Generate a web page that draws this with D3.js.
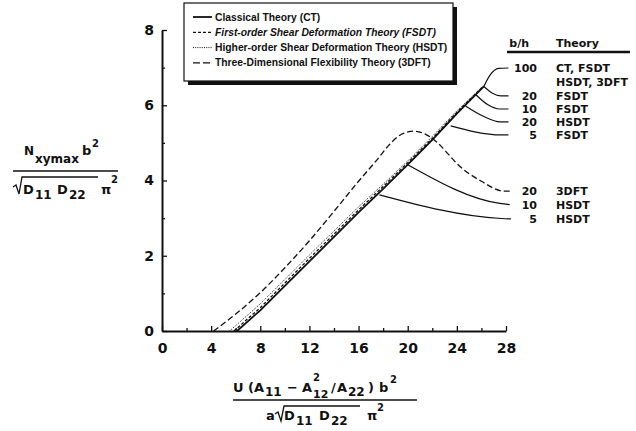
<!DOCTYPE html>
<html>
<head>
<meta charset="utf-8">
<script src="https://cdn.jsdelivr.net/npm/d3@7"></script>
<style>
  body { margin: 0; background: #fff; }
  svg { display: block; }
  text { font-family: "DejaVu Sans", "Liberation Sans", Arial, sans-serif; font-weight: bold; fill: #111; }
  text.legend { font-family: "Liberation Sans", Arial, sans-serif; }
</style>
</head>
<body>
<svg id="chart" width="636" height="431"></svg>
<script>
// axis ticks
const xTicks = [0, 4, 8, 12, 16, 20, 24, 28];
const xMinor = [2, 6, 10, 14, 18, 22, 26];
const yTicks = [0, 2, 4, 6, 8];
const yMinor = [1, 3, 5, 7];

// main bundle (b/h = 100, all theories)
const ctLine   = [[6.1, 0], [8, 0.55], [12, 1.85], [16, 3.15], [18, 3.78], [20, 4.42], [22, 5.08], [24, 5.78], [26.2, 6.5]];
const fsdtLine = [[5.85, 0], [8, 0.62], [12, 1.93], [16, 3.22], [18, 3.84], [20, 4.47], [22, 5.12], [24, 5.81], [26.2, 6.52]];
const hsdtLine = [[5.5, 0], [8, 0.72], [12, 2.02], [16, 3.3], [18, 3.9], [20, 4.52], [22, 5.17], [24, 5.85], [26.1, 6.5]];

// 3DFT, b/h = 20
const dftLine = [[4.2, 0], [6, 0.45], [8, 1.02], [10, 1.68], [12, 2.4], [14, 3.18], [16, 3.98], [17.5, 4.55], [18.5, 4.95],
  [19.5, 5.23], [20.5, 5.31], [21.5, 5.22], [22.5, 4.98], [23.3, 4.7], [24, 4.45], [26, 3.98], [27.8, 3.72], [28.5, 3.72]];

// branches leaving the bundle
const branch100  = [[26.2, 6.5], [26.7, 6.8], [27.4, 6.98], [28.2, 6.99]];
const branchF20  = [[26.2, 6.5], [26.9, 6.32], [27.6, 6.25], [28.2, 6.25]];
const branchF10  = [[25.55, 6.28], [26.5, 6.02], [27.5, 5.9], [28.2, 5.9]];
const branchH20  = [[24.7, 5.98], [26.2, 5.7], [27.5, 5.56], [28.2, 5.56]];
const branchF5   = [[23.5, 5.45], [27.6, 5.21], [28.2, 5.21]];
const branchH10  = [[20, 4.42], [27.5, 3.39], [28.3, 3.36]];
const branchH5   = [[17.7, 3.62], [27.6, 2.99], [28.4, 2.98]];

// labels on the right
const labelBH     = ["100", "20", "10", "20", "5", "20", "10", "5"];
const labelTheory = ["CT, FSDT", "FSDT", "FSDT", "HSDT", "FSDT", "3DFT", "HSDT", "HSDT"];
const labelV      = [6.99, 6.25, 5.9, 5.56, 5.21, 3.72, 3.36, 2.98];

const legendItems = [
  "Classical Theory (CT)",
  "First-order Shear Deformation Theory (FSDT)",
  "Higher-order Shear Deformation Theory (HSDT)",
  "Three-Dimensional Flexibility Theory (3DFT)"
];

const svg = d3.select("#chart");
const x = d3.scaleLinear().domain([0, 28]).range([162, 506]);
const y = d3.scaleLinear().domain([0, 8]).range([331, 30]);

// axes
svg.append("g").attr("transform", "translate(0,331)")
  .call(d3.axisBottom(x).tickValues(xTicks).tickSize(-5).tickSizeOuter(0).tickPadding(12).tickFormat(d3.format("d")));
svg.append("g").attr("transform", "translate(0,331)")
  .call(d3.axisBottom(x).tickValues(xMinor).tickSize(-3).tickSizeOuter(0).tickFormat(""))
  .select(".domain").remove();
svg.append("g").attr("transform", "translate(162,0)")
  .call(d3.axisLeft(y).tickValues(yTicks).tickSize(-5).tickSizeOuter(0).tickPadding(8).tickFormat(d3.format("d")));
svg.append("g").attr("transform", "translate(162,0)")
  .call(d3.axisLeft(y).tickValues(yMinor).tickSize(-3).tickSizeOuter(0).tickFormat(""))
  .select(".domain").remove();

svg.selectAll(".domain").attr("stroke", "#111").attr("stroke-width", 2);
svg.selectAll(".tick line").attr("stroke", "#111").attr("stroke-width", 1.3);
svg.selectAll(".tick text").attr("font-size", "14px").attr("font-family", "DejaVu Sans, Arial, sans-serif")
  .attr("font-weight", "bold").attr("fill", "#111");

// curves
const line = d3.line().x(d => x(d[0])).y(d => y(d[1]));
const smooth = d3.line().x(d => x(d[0])).y(d => y(d[1])).curve(d3.curveMonotoneX);

function drawCurve(data, gen, width, dash) {
  svg.append("path").datum(data)
    .attr("d", gen)
    .attr("fill", "none")
    .attr("stroke", "#111")
    .attr("stroke-width", width)
    .attr("stroke-dasharray", dash);
}

drawCurve(hsdtLine, line, 1, "1,1.3");
drawCurve(fsdtLine, line, 1.3, "3,2");
drawCurve(ctLine, line, 1.8, null);
drawCurve(dftLine, smooth, 1.3, "6,3");
[branch100, branchF20, branchF10, branchH20, branchF5, branchH10, branchH5].forEach(b => drawCurve(b, smooth, 1.2, null));

// right-side labels
const numX = x(28.2) + 28.5, thX = x(28.2) + 47.5;
svg.append("text").attr("x", 529).attr("y", 47).attr("text-anchor", "end").attr("font-size", "11px").text("b/h");
svg.append("text").attr("x", thX).attr("y", 47).attr("font-size", "11px").text("Theory");
svg.append("line").attr("x1", 507).attr("x2", 630).attr("y1", 52).attr("y2", 52).attr("stroke", "#111").attr("stroke-width", 2.5);

labelV.forEach((v, i) => {
  svg.append("text").attr("x", numX).attr("y", y(v) + 4).attr("text-anchor", "end")
    .attr("font-size", "11px").text(labelBH[i]);
  svg.append("text").attr("x", thX).attr("y", y(v) + 4)
    .attr("font-size", "11px").text(labelTheory[i]);
});
svg.append("text").attr("x", thX).attr("y", y(labelV[0]) + 18).attr("font-size", "11px").text("HSDT, 3DFT");

// legend
svg.append("rect").attr("x", 188).attr("y", 7).attr("width", 269).attr("height", 78).attr("fill", "#111");
svg.append("rect").attr("x", 184).attr("y", 3).attr("width", 269).attr("height", 78)
  .attr("fill", "#fff").attr("stroke", "#111").attr("stroke-width", 1.2);
const legendStyles = [[1.8, null], [1.2, "3,2"], [1, "1,1.2"], [1.3, "7,3"]];
legendItems.forEach((t, i) => {
  const ly = 17 + i * 15.3;
  svg.append("line").attr("x1", 193).attr("x2", 212).attr("y1", ly).attr("y2", ly)
    .attr("stroke", "#111").attr("stroke-width", legendStyles[i][0]).attr("stroke-dasharray", legendStyles[i][1]);
  svg.append("text").attr("class", "legend").attr("x", 215).attr("y", ly + 3.5).attr("font-size", "10.3px")
    .attr("font-style", i === 1 ? "italic" : "normal").text(t);
});

// axis label helper
function put(px, py, str, size) {
  svg.append("text").attr("x", px).attr("y", py).attr("font-size", size + "px").text(str);
}

// y label
put(24, 155, "N", 12);
put(35, 163, "xymax", 12);
put(82, 155, "b", 13);
put(92, 147, "2", 10);
svg.append("line").attr("x1", 13).attr("x2", 118).attr("y1", 171).attr("y2", 171).attr("stroke", "#111").attr("stroke-width", 1.5);
svg.append("path").attr("d", "M13,187 L16,185 L19,194 L22,177 L98,177").attr("fill", "none").attr("stroke", "#111").attr("stroke-width", 1.3);
put(23, 194, "D", 13);
put(35, 199, "11", 12);
put(57, 194, "D", 13);
put(69, 199, "22", 12);
put(101, 194, "π", 13);
put(111, 183, "2", 10);

// x label
put(233, 392, "U", 13);
put(248, 392, "(", 13);
put(254, 392, "A", 13);
put(265, 396, "11", 12);
put(287, 392, "−", 13);
put(302, 392, "A", 13);
put(313, 381, "2", 10);
put(313, 398, "12", 11);
put(331, 392, "/", 13);
put(337, 392, "A", 13);
put(348, 396, "22", 12);
put(368, 392, ")", 13);
put(379, 392, "b", 13);
put(390, 383, "2", 10);
svg.append("line").attr("x1", 233).attr("x2", 417).attr("y1", 400).attr("y2", 400).attr("stroke", "#111").attr("stroke-width", 1.5);
put(266, 420, "a", 13);
svg.append("path").attr("d", "M275,414 L278,412 L281,421 L284,406 L360,406").attr("fill", "none").attr("stroke", "#111").attr("stroke-width", 1.3);
put(284, 420, "D", 13);
put(296, 425, "11", 12);
put(319, 420, "D", 13);
put(331, 425, "22", 12);
put(367, 420, "π", 13);
put(377, 411, "2", 10);
</script>
</body>
</html>
